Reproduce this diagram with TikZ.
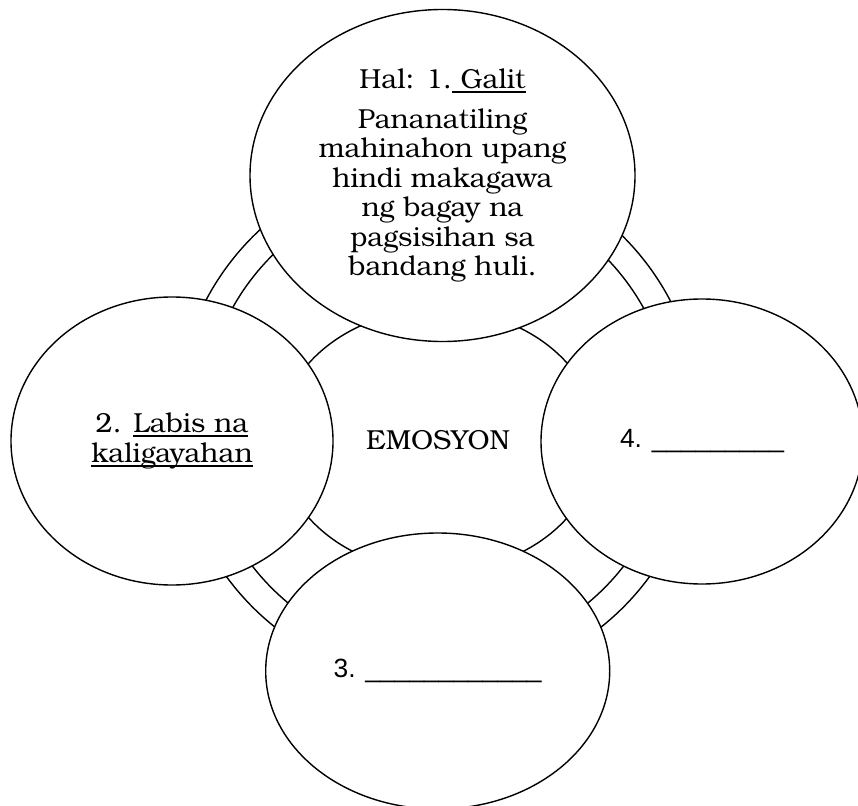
\documentclass[tikz,border=0pt]{standalone}
\usepackage{fontspec}
\setmainfont{TeX Gyre Bonum}
\newfontfamily\blankfont{Liberation Sans}
\usepackage{tikz}
\usetikzlibrary{shapes.geometric}
\newcommand{\ulbar}[1]{\setbox0=\hbox{#1}\rlap{\rule[-4pt]{\wd0}{1.1pt}}\box0}

\begin{document}
\begin{tikzpicture}[x=1pt, y=-1pt, line width=1.4pt,
    bubble/.style={ellipse, draw, fill=white, inner sep=0pt, align=center,
      font=\fontsize{27.5}{29.4}\selectfont},
    blank/.style={font=\blankfont\fontsize{26.4}{30}\selectfont}]
		\useasboundingbox (0,0) rectangle (858,805);
		\clip (0,0) rectangle (858,805);
		% ring
		\draw (438,422) circle (262pt);
		\draw (438,422) circle (235pt);
		\node[bubble, minimum width=320pt, minimum height=262pt] (E) at (438,440.5) {EMOSYON};
		% the four emotions
		\node[bubble, minimum width=385pt, minimum height=332pt] (N1) at (442.5,175.5)
			{Hal: 1.\ulbar{\ Galit}\\[10.6pt] Pananatiling\\ mahinahon upang\\ hindi makagawa\\ ng bagay na\\ pagsisihan sa\\ bandang huli.};
		\node[bubble, minimum width=322pt, minimum height=288pt, font=\fontsize{27.5}{30}\selectfont] (N2) at (172,441)
			{2. \ulbar{Labis na}\\ \ulbar{kaligayahan}};
		\node[bubble, blank, minimum width=344pt, minimum height=276pt] (N3) at (437.7,671)
			{3. \_\_\_\_\_\_\_\_\_\_\_\_};
		\node[bubble, blank, minimum width=322pt, minimum height=285pt] (N4) at (702,441.5)
			{4. \_\_\_\_\_\_\_\_\_};
\end{tikzpicture}
\end{document}
